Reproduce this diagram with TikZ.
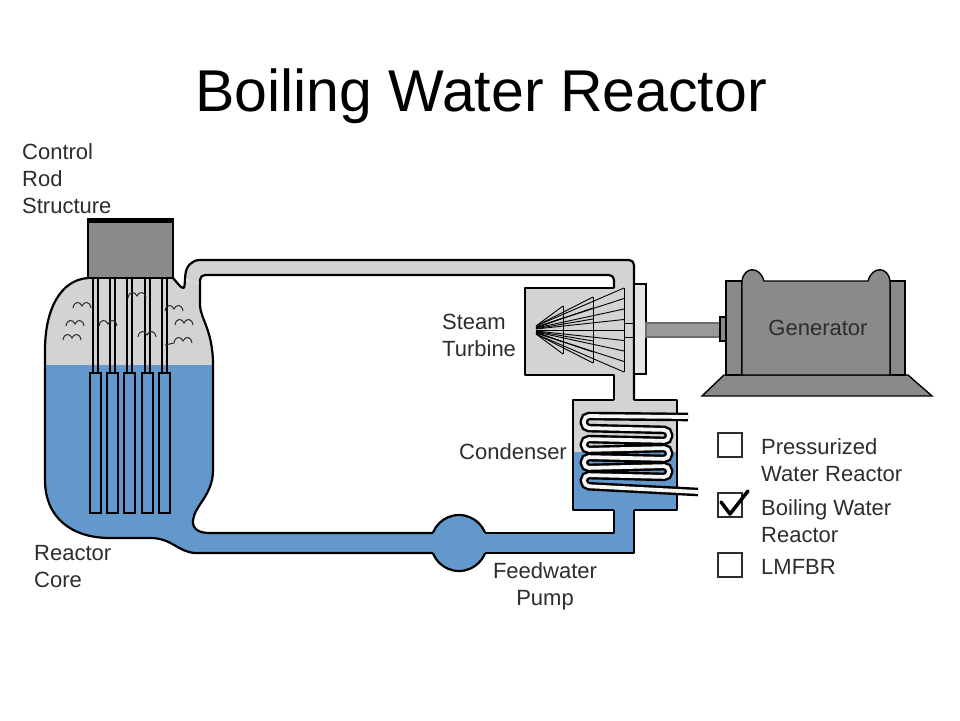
\documentclass[tikz,border=0pt]{standalone}
\usepackage{fontspec}
\setmainfont{Liberation Sans}
\definecolor{water}{RGB}{99,152,205}
\definecolor{steam}{RGB}{211,211,211}
\definecolor{metal}{RGB}{138,138,138}
\definecolor{ink}{RGB}{45,45,45}
\begin{document}
\begin{tikzpicture}[x=1pt, y=-1pt,
    wall/.style={line width=2.2pt, line join=round},
    rod/.style={line width=1.4pt},
    blade/.style={line width=0.9pt},
    bubble/.style={draw=ink, line width=1pt},
    coil/.style={line width=2.4pt, double=white!93!gray, double distance=3.8pt, rounded corners=5pt},
    lbltext/.style={font=\fontsize{22}{27}\selectfont, text=ink, align=left, inner sep=0pt},
    ckbox/.style={draw=ink, line width=1.3pt, minimum size=24pt, inner sep=0pt}]

  \useasboundingbox (0,0) rectangle (960,720);
  \fill [white] (0,0) rectangle (960,720);

  \node [anchor=base, font=\fontsize{59}{60}\selectfont] (title) at (481,111) {Boiling Water Reactor};

  \fill [steam, rounded corners=5pt] (185,280) .. controls (186,266) and (192,260) .. (205,260) -- (634,260) -- (634,290) -- (614,290) -- (614,275) -- (200,275) -- (200,284) -- cycle;
  \begin{scope}
    \clip (88,278) .. controls (60,280) and (45,310) .. (45,350) -- (45,480) .. controls (45,518) and (72,538) .. (110,538) -- (150,538) .. controls (172,538) and (178,552) .. (195,553) -- (212,553) -- (212,533) -- (210,533) .. controls (200,533) and (192,530) .. (193,520) .. controls (195,505) and (213,495) .. (213,470) -- (213,365) .. controls (213,330) and (200,318) .. (200,300) -- (200,284) -- (185,280) .. controls (184,292) and (180,286) .. (173,278) -- cycle;
    \fill [steam] (40,270) rectangle (220,365);
    \fill [water] (40,365) rectangle (220,560);
  \end{scope}
  \draw [wall, fill=water] (459,543) circle (28pt);
  \fill [water] (195,533) rectangle (634,553);
  \fill [water] (614,505) rectangle (634,553);
  \fill [steam] (525,288) rectangle (634,375);
  \fill [steam] (614,370) rectangle (634,402);
  \fill [steam] (573,400) rectangle (677,452);
  \fill [water] (573,452) rectangle (677,510);

  \draw [wall] (88,278) .. controls (60,280) and (45,310) .. (45,350) -- (45,480) .. controls (45,518) and (72,538) .. (110,538) -- (150,538) .. controls (172,538) and (178,552) .. (195,553) -- (433,553);
  \draw [wall, rounded corners=5pt] (173,278) .. controls (180,286) and (184,292) .. (185,280) .. controls (186,266) and (192,260) .. (205,260) -- (634,260) -- (634,400);
  \draw [wall, rounded corners=5pt] (614,288) -- (614,275) -- (200,275) -- (200,300) [sharp corners] .. controls (200,318) and (213,330) .. (213,365) -- (213,470) .. controls (213,495) and (195,505) .. (193,520) .. controls (192,530) and (200,533) .. (210,533) -- (433,533);
  \draw [wall] (485,533) -- (614,533) -- (614,510);
  \draw [wall] (485,553) -- (634,553) -- (634,510);
  \draw [wall] (614,288) -- (525,288) -- (525,375) -- (614,375) -- (614,400);
  \draw [wall] (614,400) -- (573,400) -- (573,510) -- (614,510);
  \draw [wall] (634,510) -- (677,510) -- (677,400) -- (634,400);

  \draw [rod, fill=metal] (88,219) rectangle (173,278);
  \draw [line width=4.5pt] (88,220.5) -- (173,220.5);
  \foreach \c in {95,112.4,129.8,147.2,164.6} {
    \draw [line width=2pt] (\c-2.5,278) -- (\c-2.5,373) (\c+2.5,278) -- (\c+2.5,373);
    \draw [line width=2pt, fill=water] (\c-5.5,373) rectangle (\c+5.5,513);
  }
  \foreach \bx/\by in {82/305, 75/323, 72/337, 108/323, 137/295, 147/334, 174/308, 184/322, 183/340}
    \draw [bubble] (\bx-9,\by+3) .. controls (\bx-8,\by-4) and (\bx-2,\by-4) .. (\bx,\by+1) .. controls (\bx+2,\by-4) and (\bx+8,\by-4) .. (\bx+9,\by+3);
  \draw [bubble] (165,345) -- (174,343);

  \foreach \fx/\fh/\n in {563/24/4, 593/33/6, 624/42/8} {
    \draw [blade] (\fx,330-\fh) -- (\fx,330+\fh);
    \foreach \k in {0,...,\n}
      \draw [blade] (536,{326+8*\k/\n}) -- (\fx,{330-\fh+2*\fh*\k/\n});
  }
  \draw [blade] (624,323) -- (634,323) (624,337) -- (634,337);
  \draw [rod, fill=steam!60!white] (634,284) rectangle (646,374);
  \draw [rod, draw=ink!70, fill=black!40] (646,323) rectangle (720,337);
  \draw [rod, fill=metal] (720,317) rectangle (727,341);

  \draw [rod, fill=metal] (702,396) -- (932,396) -- (908,375) -- (724,375) -- cycle;
  \draw [rod, fill=metal] (726,281) rectangle (742,375);
  \draw [rod, fill=metal] (890,281) rectangle (905,375);
  \draw [rod, fill=metal] (742,375) -- (742,281) .. controls (744,266) and (760,266) .. (764,281) -- (868,281) .. controls (872,266) and (888,266) .. (890,281) -- (890,375) -- cycle;
  \node [lbltext] (gen) at (818,328) {Generator};

  \draw [coil] (688,417) -- (584,416) -- (584,428) -- (669,430) -- (669,441) -- (584,439) -- (584,450) -- (669,448) -- (669,459) -- (584,457) -- (584,468) -- (669,466) -- (669,477) -- (584,475) -- (584,486) -- (698,492);

  \node [lbltext, anchor=west] (crs) at (22,179) {Control\\Rod\\Structure};
  \node [lbltext, anchor=west] (core) at (34,567) {Reactor\\Core};
  \node [lbltext, anchor=west] (turb) at (442,335) {Steam\\Turbine};
  \node [lbltext, anchor=west] (cond) at (459,452) {Condenser};
  \node [lbltext, align=center] (pump) at (545,586) {Feedwater\\Pump};

  \node [ckbox] (pwrbox) at (730,445) {};
  \node [ckbox] (bwrbox) at (730,505) {};
  \node [ckbox] (lmfbox) at (730,565) {};
  \draw [line width=3.5pt, line cap=round, line join=round] (721,502) -- (730,514) -- (748,491);
  \node [lbltext, anchor=west] (pwr) at (761,460) {Pressurized\\Water Reactor};
  \node [lbltext, anchor=west] (bwr) at (761,521) {Boiling Water\\Reactor};
  \node [lbltext, anchor=west] (lmf) at (761,567) {LMFBR};
\end{tikzpicture}
\end{document}
